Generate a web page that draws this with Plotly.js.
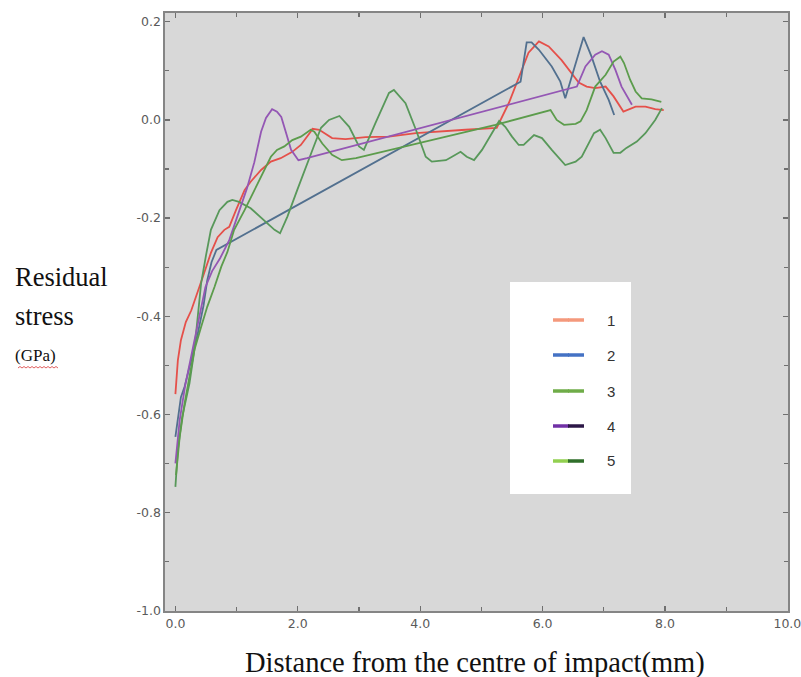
<!DOCTYPE html>
<html>
<head>
<meta charset="utf-8">
<script src="https://cdn.plot.ly/plotly-3.0.1.min.js"></script>
<style>
  html, body { margin: 0; padding: 0; background: #ffffff; }
  #chart { width: 801px; height: 677px; }
</style>
</head>
<body>
<div id="chart"></div>
<script>
// ---- Data ----
const seriesNames = ["1", "2", "3", "4", "5"];

const x1 = [0.00,0.04,0.09,0.17,0.26,0.36,0.47,0.58,0.69,0.80,0.88,0.99,1.13,1.23,1.40,1.56,1.72,1.91,2.05,2.21,2.24,2.35,2.40,2.56,2.78,3.11,3.49,3.93,4.74,5.25,5.45,5.61,5.77,5.94,6.10,6.31,6.46,6.59,6.72,6.86,7.03,7.16,7.32,7.52,7.68,7.84,7.98];
const y1 = [-0.559,-0.490,-0.449,-0.412,-0.388,-0.353,-0.312,-0.271,-0.239,-0.224,-0.218,-0.184,-0.143,-0.126,-0.102,-0.085,-0.078,-0.065,-0.051,-0.024,-0.018,-0.020,-0.024,-0.037,-0.039,-0.035,-0.034,-0.027,-0.020,-0.016,0.035,0.088,0.137,0.160,0.150,0.122,0.096,0.076,0.068,0.065,0.068,0.048,0.017,0.027,0.027,0.022,0.020];

const x2 = [0.00,0.04,0.09,0.15,0.26,0.36,0.46,0.52,0.59,0.67,5.64,5.74,5.82,5.94,6.15,6.29,6.37,6.54,6.67,6.80,6.94,7.08,7.17];
const y2 = [-0.646,-0.606,-0.565,-0.544,-0.490,-0.439,-0.378,-0.327,-0.290,-0.265,0.078,0.158,0.158,0.143,0.109,0.078,0.044,0.116,0.169,0.129,0.078,0.041,0.010];

const x3 = [0.00,0.04,0.11,0.23,0.31,0.36,0.42,0.50,0.58,0.72,0.85,0.93,1.04,1.23,1.45,1.62,1.71,1.83,1.99,2.15,2.27,2.38,2.51,2.68,2.84,3.00,3.08,3.27,3.49,3.57,3.76,3.93,4.09,4.19,4.42,4.52,4.66,4.76,4.88,5.01,5.15,5.29,5.39,5.50,5.61,5.69,5.86,5.99,6.15,6.37,6.54,6.64,6.84,6.94,7.03,7.16,7.27,7.37,7.54,7.68,7.84,7.95];
const y3 = [-0.748,-0.673,-0.606,-0.537,-0.469,-0.401,-0.333,-0.276,-0.224,-0.184,-0.167,-0.163,-0.167,-0.180,-0.204,-0.224,-0.231,-0.197,-0.143,-0.088,-0.051,-0.016,0.000,0.008,-0.014,-0.054,-0.061,-0.006,0.055,0.061,0.034,-0.020,-0.075,-0.085,-0.082,-0.075,-0.065,-0.075,-0.082,-0.061,-0.031,-0.002,-0.014,-0.034,-0.051,-0.051,-0.031,-0.037,-0.061,-0.092,-0.085,-0.075,-0.027,-0.020,-0.037,-0.067,-0.067,-0.057,-0.044,-0.027,0.000,0.024];

const x4 = [0.00,0.07,0.16,0.28,0.39,0.49,0.60,0.73,0.88,1.04,1.17,1.29,1.40,1.48,1.58,1.66,1.73,1.81,1.89,2.01,2.15,6.56,6.70,6.86,6.97,7.08,7.19,7.29,7.46];
const y4 = [-0.700,-0.612,-0.541,-0.469,-0.398,-0.341,-0.308,-0.282,-0.245,-0.184,-0.139,-0.086,-0.024,0.004,0.022,0.017,0.006,-0.027,-0.061,-0.082,-0.078,0.068,0.109,0.133,0.140,0.133,0.102,0.068,0.031];

const x5 = [0.01,0.07,0.15,0.23,0.31,0.42,0.52,0.64,0.75,0.85,0.96,1.13,1.29,1.45,1.56,1.66,1.78,1.91,2.05,2.21,2.27,2.40,2.56,2.72,2.95,5.23,5.61,6.13,6.23,6.35,6.54,6.62,6.72,6.86,7.03,7.16,7.27,7.33,7.43,7.52,7.62,7.78,7.94];
const y5 = [-0.724,-0.646,-0.578,-0.524,-0.469,-0.422,-0.381,-0.340,-0.299,-0.269,-0.224,-0.184,-0.143,-0.102,-0.075,-0.061,-0.054,-0.041,-0.034,-0.020,-0.024,-0.048,-0.071,-0.082,-0.078,-0.010,0.003,0.020,0.000,-0.010,-0.008,-0.003,0.020,0.068,0.092,0.119,0.129,0.116,0.082,0.058,0.044,0.042,0.037];

const xTickVals = [0, 2, 4, 6, 8, 10];
const xTickText = ["0.0", "2.0", "4.0", "6.0", "8.0", "10.0"];
const yTickVals = [-1.0, -0.8, -0.6, -0.4, -0.2, 0.0, 0.2];
const yTickText = ["-1.0", "-0.8", "-0.6", "-0.4", "-0.2", "0.0", "0.2"];

// ---- Styles ----
const lineColors = ["#e5504a", "#52708f", "#58985a", "#9457b4", "#5c9c4c"];
const legendColorsA = ["#f4997c", "#4472c4", "#6fac48", "#7131a6", "#92d050"];
const legendColorsB = ["#f4997c", "#4472c4", "#6fac48", "#2c1747", "#2f6e2a"];

const xs = [x1, x2, x3, x4, x5];
const ys = [y1, y2, y3, y4, y5];

const traces = seriesNames.map((n, i) => ({
  type: "scatter",
  mode: "lines",
  name: n,
  x: xs[i],
  y: ys[i],
  line: { color: lineColors[i], width: 1.8 },
  showlegend: false
}));

// Plot area in pixels: left 165, right 788, top 13, bottom 611
const L = 165, R = 788, T = 13, B = 611;
const px = v => (v - L) / (R - L);
const py = v => (B - v) / (B - T);

const shapes = [];
const annotations = [];

// legend box
shapes.push({ type: "rect", xref: "paper", yref: "paper",
  x0: px(510), x1: px(631), y0: py(494), y1: py(282),
  fillcolor: "#ffffff", line: { width: 0 }, layer: "above" });
const legendY = [320, 355, 391, 426, 461];
seriesNames.forEach((n, i) => {
  const yy = py(legendY[i]);
  shapes.push({ type: "line", xref: "paper", yref: "paper",
    x0: px(553), x1: px(569), y0: yy, y1: yy,
    line: { color: legendColorsA[i], width: 3.5 }, layer: "above" });
  shapes.push({ type: "line", xref: "paper", yref: "paper",
    x0: px(568), x1: px(584), y0: yy, y1: yy,
    line: { color: legendColorsB[i], width: 3.5 }, layer: "above" });
  annotations.push({ xref: "paper", yref: "paper", x: px(611), y: yy,
    text: n, showarrow: false, xanchor: "center", yanchor: "middle",
    font: { family: "Liberation Sans, Arial, sans-serif", size: 15, color: "#333333" } });
});

// y axis title (three lines, left)
annotations.push({ xref: "paper", yref: "paper", x: px(13), y: py(277),
  text: "Residual", showarrow: false, xanchor: "left", yanchor: "middle",
  font: { family: "Liberation Serif, Times New Roman, serif", size: 26.5, color: "#111111" } });
annotations.push({ xref: "paper", yref: "paper", x: px(13), y: py(316),
  text: "stress", showarrow: false, xanchor: "left", yanchor: "middle",
  font: { family: "Liberation Serif, Times New Roman, serif", size: 26.5, color: "#111111" } });
annotations.push({ xref: "paper", yref: "paper", x: px(13), y: py(355),
  text: "(GPa)", showarrow: false, xanchor: "left", yanchor: "middle",
  font: { family: "Liberation Serif, Times New Roman, serif", size: 17, color: "#111111" } });
// wavy spell-check underline under (GPa)
(function () {
  let d = "";
  const x0 = 18, x1w = 58, yb = 368;
  let k = 0;
  for (let xx = x0; xx <= x1w; xx += 2, k++) {
    const yv = yb + (k % 2 === 0 ? 0 : -1.5);
    d += (k === 0 ? "M " : " L ") + px(xx).toFixed(5) + " " + py(yv).toFixed(5);
  }
  shapes.push({ type: "path", xref: "paper", yref: "paper", path: d,
    line: { color: "#e06060", width: 1 } });
})();

// x axis title
annotations.push({ xref: "paper", yref: "paper", x: px(475), y: py(663),
  text: "Distance from the centre of impact(mm)", showarrow: false,
  xanchor: "center", yanchor: "middle",
  font: { family: "Liberation Serif, Times New Roman, serif", size: 28.5, color: "#111111" } });

const axisCommon = {
  showgrid: false,
  zeroline: false,
  showline: true,
  linecolor: "#858585",
  linewidth: 1.6,
  mirror: "allticks",
  ticks: "inside",
  ticklen: 5,
  tickwidth: 1.2,
  tickcolor: "#6f6f6f",
  ticklabeloverflow: "allow",
  tickfont: { family: "DejaVu Sans, Verdana, sans-serif", size: 12.5, color: "#5a5a5a" }
};

const layout = {
  width: 801,
  height: 677,
  margin: { l: L, r: 801 - R, t: T, b: 677 - B },
  paper_bgcolor: "#ffffff",
  plot_bgcolor: "#d8d8d8",
  showlegend: false,
  xaxis: Object.assign({}, axisCommon, {
    range: [-0.17, 10.01],
    tickvals: xTickVals,
    ticktext: xTickText,
    minor: { dtick: 1, tick0: 0, ticks: "inside", ticklen: 4, tickcolor: "#6f6f6f", showgrid: false }
  }),
  yaxis: Object.assign({}, axisCommon, {
    range: [-1.001, 0.218],
    tickvals: yTickVals,
    ticktext: yTickText,
    minor: { dtick: 0.1, tick0: 0, ticks: "inside", ticklen: 4, tickcolor: "#6f6f6f", showgrid: false }
  }),
  shapes: shapes,
  annotations: annotations
};

Plotly.newPlot("chart", traces, layout, { staticPlot: true, displayModeBar: false });
</script>
</body>
</html>
